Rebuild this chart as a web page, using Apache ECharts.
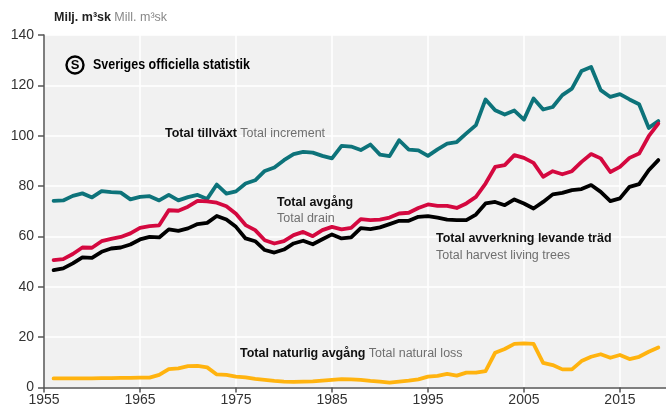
<!DOCTYPE html>
<html>
<head>
<meta charset="utf-8">
<script src="https://cdn.jsdelivr.net/npm/echarts@6/dist/echarts.min.js"></script>
<style>
html,body{margin:0;padding:0;background:#fff;}
#c{width:666px;height:410px;}
</style>
</head>
<body>
<div id="c"></div>
<script>
const startYear = 1956;
const increment = [74.1,74.3,76.1,77.1,75.5,78,77.6,77.4,74.7,75.7,
  76,74.3,76.5,74.3,75.6,76.5,74.9,80.6,77,77.9,
  81,82.3,86,87.4,90.3,92.7,93.6,93.3,92,91,
  96,95.7,94.3,96.5,92.5,91.9,98.2,94.5,94.2,92,
  94.6,96.9,97.5,100.9,104.2,114.4,110.1,108.4,110,106.4,
  114.8,110.4,111.4,116.1,118.7,125.7,127.3,118.1,115.4,116.5,
  114.4,112.5,103.1,105.8];
const drain = [50.6,51,53,55.6,55.5,58.1,59,59.8,61.2,63.4,
  64.1,64.4,70.4,70.2,71.8,74.1,73.9,73.4,72,69,
  64.5,62.5,58.5,57.2,58.1,60.5,61.8,60.1,62.5,63.8,
  62.8,63.4,66.9,66.5,66.7,67.5,69.1,69.4,71.3,72.7,
  72.1,72.1,71.3,73.1,75.7,81,87.6,88.3,92.3,91.2,
  89.2,83.7,85.9,84.7,85.9,89.6,92.7,91,85.6,87.6,
  91.2,92.9,99.8,104.8];
const harvest = [46.6,47.3,49.3,51.7,51.5,53.9,55.2,55.6,56.8,58.8,
  59.8,59.6,62.8,62.2,63.2,64.9,65.4,68.1,66.7,63.8,
  59.2,58.1,54.6,53.6,54.8,57.2,58.3,56.9,58.9,60.8,
  59.2,59.6,63.3,62.9,63.6,64.9,66.2,66.2,67.8,68.1,
  67.5,66.7,66.5,66.5,68.7,73.1,73.7,72.4,74.7,73.1,
  71.1,73.7,76.7,77.3,78.4,78.8,80.4,77.7,74,75.1,
  79.7,80.8,86.3,90.3];
const naturalLoss = [3.6,3.6,3.6,3.6,3.6,3.7,3.7,3.8,3.8,3.9,
  3.9,5.0,7.3,7.6,8.5,8.6,8.0,5.2,5.0,4.3,
  4.0,3.4,3.0,2.6,2.3,2.2,2.3,2.4,2.7,3.0,
  3.3,3.2,3.0,2.6,2.3,1.9,2.3,2.7,3.2,4.3,
  4.6,5.4,4.7,5.9,5.9,6.5,13.8,15.3,17.3,17.5,
  17.3,9.8,8.9,7.2,7.2,10.5,12.2,13.2,11.8,12.9,
  11.3,12.2,14.2,15.9];
const xTicks = [1955,1965,1975,1985,1995,2005,2015];
const yTicks = [0,20,40,60,80,100,120,140];

function pairs(arr){ return arr.map((v,i)=>[startYear+i, v]); }

const FONT = '"Liberation Sans", Arial, sans-serif';
const chart = echarts.init(document.getElementById('c'), null, {renderer:'canvas'});

// compress the SOS wordmark to its width in the reference
const sosText = 'Sveriges officiella statistik';
const sosFont = 'bold 15px ' + FONT;
const mc = document.createElement('canvas').getContext('2d');
mc.font = sosFont;
const sosScale = 157 / mc.measureText(sosText).width;

function lineSeries(name, data, color, z){
  return {name, type:'line', data:pairs(data), showSymbol:false, symbol:'none',
    lineStyle:{color, width:3.8, join:'round', cap:'round'}, z, animation:false};
}

const richB = {fontWeight:'bold', fill:'#111', fontSize:12.5, fontFamily:FONT};
const richG = {fill:'#6f6f6f', fontSize:12.5, fontFamily:FONT};

chart.setOption({
  animation:false,
  textStyle:{fontFamily:FONT},
  grid:{left:44, right:0, top:35, bottom:22.5, show:true, backgroundColor:'#f1f1f1', borderWidth:0},
  xAxis:{type:'value', min:1955, max:2019.8, interval:10,
    axisLine:{show:true, lineStyle:{color:'#555', width:1.5}},
    axisTick:{show:true, length:5, lineStyle:{color:'#555', width:1.5}, customValues:xTicks},
    axisLabel:{color:'#333', fontSize:14, margin:6, fontFamily:FONT, customValues:xTicks, formatter:v=>String(v)},
    splitLine:{show:true, lineStyle:{color:'#fff', width:1.5}}
  },
  yAxis:{type:'value', min:0, max:140, interval:20,
    axisLine:{show:true, lineStyle:{color:'#555', width:1.5}},
    axisTick:{show:true, length:6, lineStyle:{color:'#555', width:1.5}},
    axisLabel:{color:'#333', fontSize:14, margin:10, fontFamily:FONT},
    splitLine:{show:true, lineStyle:{color:'#fff', width:1.5}}
  },
  series:[
    lineSeries('Total naturlig avgång', naturalLoss, '#ffb30f', 2),
    lineSeries('Total tillväxt', increment, '#0d737a', 3),
    lineSeries('Total avverkning levande träd', harvest, '#000000', 4),
    lineSeries('Total avgång', drain, '#d4083f', 5)
  ],
  graphic:[
    {type:'text', x:54, y:18, style:{text:'{b|Milj. m³sk} {g|Mill. m³sk}', verticalAlign:'middle',
      rich:{b:{fontWeight:'bold', fill:'#222', fontSize:12.5, fontFamily:FONT}, g:{fill:'#888', fontSize:12.5, fontFamily:FONT}}}},
    {type:'circle', shape:{cx:75, cy:65, r:8.5}, style:{fill:'none', stroke:'#000', lineWidth:2.4}, z:10},
    {type:'text', x:75, y:65.5, style:{text:'S', fill:'#000', font:'bold 13px '+FONT, align:'center', verticalAlign:'middle'}, z:10},
    {type:'text', x:93, y:65, scaleX:sosScale, originX:0, originY:0, style:{text:sosText, fill:'#000', font:sosFont, verticalAlign:'middle'}, z:10},
    {type:'text', x:165, y:134, style:{text:'{b|Total tillväxt} {g|Total increment}', verticalAlign:'middle',
      rich:{b:richB, g:richG}}, z:10},
    {type:'text', x:277, y:203, style:{text:'Total avgång', fill:'#111', font:'bold 12.5px '+FONT, verticalAlign:'middle'}, z:10},
    {type:'text', x:277, y:219, style:{text:'Total drain', fill:'#6f6f6f', font:'12.5px '+FONT, verticalAlign:'middle'}, z:10},
    {type:'text', x:436, y:239, style:{text:'Total avverkning levande träd', fill:'#111', font:'bold 12.5px '+FONT, verticalAlign:'middle'}, z:10},
    {type:'text', x:436, y:256, style:{text:'Total harvest living trees', fill:'#6f6f6f', font:'12.5px '+FONT, verticalAlign:'middle'}, z:10},
    {type:'text', x:240, y:354, style:{text:'{b|Total naturlig avgång} {g|Total natural loss}', verticalAlign:'middle',
      rich:{b:richB, g:richG}}, z:10}
  ]
});
</script>
</body>
</html>
